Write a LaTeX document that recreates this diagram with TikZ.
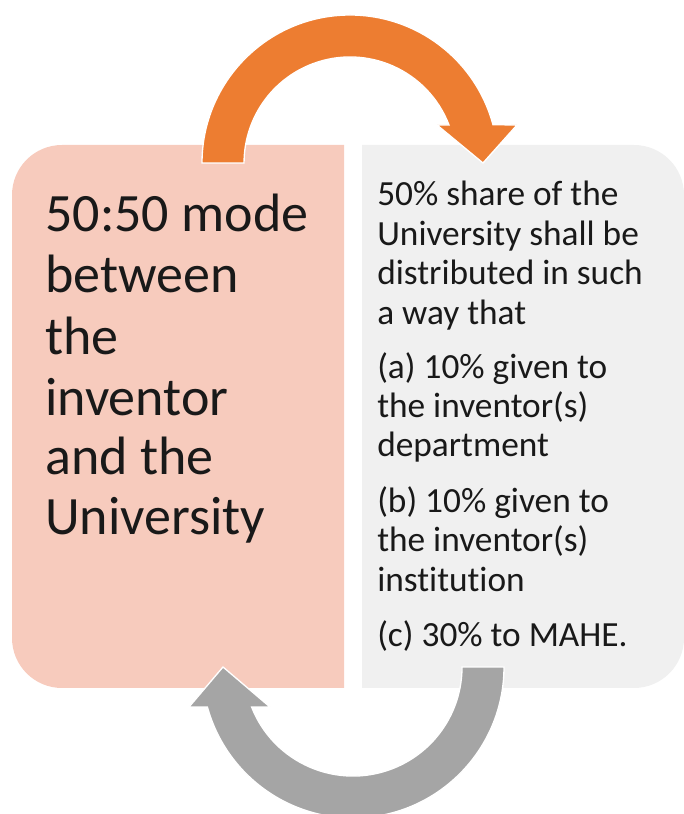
\documentclass[tikz,border=0pt]{standalone}
\usepackage{fontspec}
\setmainfont{Carlito}[Ligatures=NoCommon]
\definecolor{leftfill}{RGB}{247,203,189}
\definecolor{rightfill}{RGB}{240,240,240}
\definecolor{orangec}{RGB}{237,125,49}
\definecolor{grayc}{RGB}{165,165,165}
\definecolor{txt}{RGB}{25,25,25}
\tikzset{
  bigtxt/.style={anchor=base west, inner sep=0pt, text=txt, font=\fontsize{40.5pt}{45pt}\selectfont},
  smalltxt/.style={anchor=base west, inner sep=0pt, text=txt, font=\fontsize{26.5pt}{29.5pt}\selectfont},
  arrowshape/.style={draw=white, line width=1pt, line join=miter}
}
\begin{document}
\begin{tikzpicture}[x=0.75pt,y=0.75pt]
\useasboundingbox (0,0) rectangle (684,814);
% left box
\fill[leftfill] (344,126) -- (62,126) arc[start angle=270, end angle=180, radius=37.5pt]
  -- (12,619) arc[start angle=180, end angle=90, radius=37.5pt] -- (344,669) -- cycle;
% right box
\fill[rightfill] (362,126) -- (634,126) arc[start angle=270, end angle=360, radius=37.5pt]
  -- (684,619) arc[start angle=0, end angle=90, radius=37.5pt] -- (362,669) -- cycle;
% orange arrow
\fill[orangec, arrowshape] (202,651) arc[start angle=180, end angle=15, radius=111pt]
  -- (517,689) -- (483,651) -- (437,689) -- (449,689)
  arc[start angle=21, end angle=180, radius=79.5pt] -- cycle;
% gray arrow
\fill[grayc, arrowshape] (504,147) arc[start angle=0, end angle=-164.64, radius=113.25pt]
  -- (189,107) -- (223,147) -- (270,107) -- (251.6,107)
  arc[start angle=-158.5, end angle=0, radius=81.75pt] -- cycle;
% left text
\foreach \t/\yy [count=\i] in {50:50 mode/232, between/293, the/355, inventor/416, and the/475, University/535}
  \node[bigtxt] (L\i) at (45,814-\yy) {\t};
% right text
\foreach \t/\yy [count=\i] in {50\% share of the/206, University shall be/246, distributed in such/285, a way that/325,
  (a) 10\% given to/379, the inventor(s)/418, department/457,
  (b) 10\% given to/513, the inventor(s)/552, institution/592,
  (c) 30\% to MAHE./647}
  \node[smalltxt] (R\i) at (377,814-\yy) {\t};
\end{tikzpicture}
\end{document}
